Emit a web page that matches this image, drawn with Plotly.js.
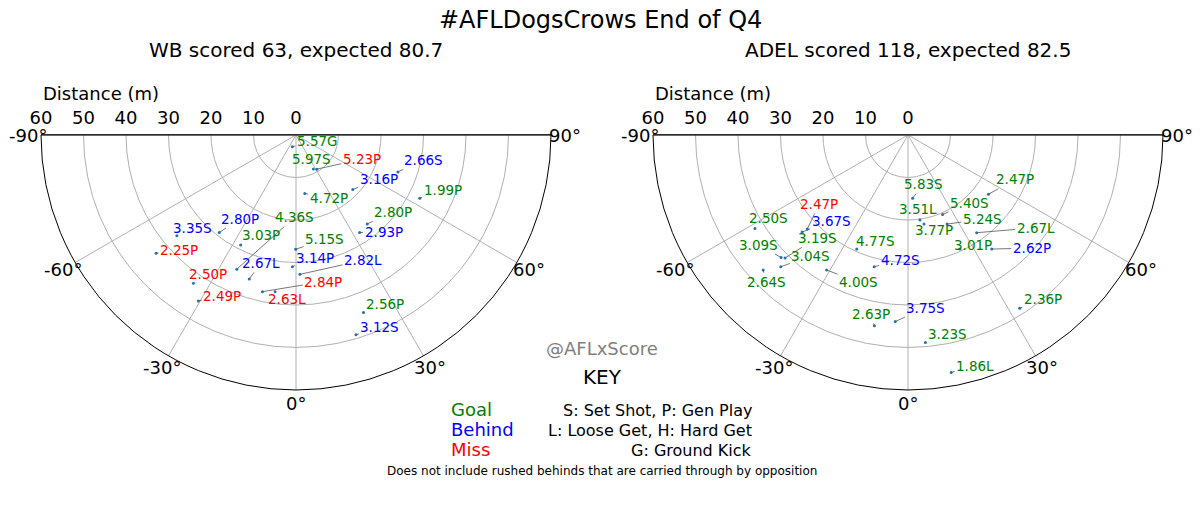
<!DOCTYPE html>
<html>
<head>
<meta charset="utf-8">
<script src="https://cdn.plot.ly/plotly-3.0.1.min.js"></script>
<style>
  html, body { margin: 0; padding: 0; background: #fff; }
  #chart { width: 1200px; height: 524px; }
</style>
</head>
<body>
<div id="chart"></div>
<script>
// Western Bulldogs shots: distance (m), angle (deg, 0 = straight in front), expected score, shot type, result
const wbDist   = [2.9, 9.0, 9.4, 25.5, 18.5, 32.7, 13.9, 26.8, 27.4, 34.5, 36.7, 29.2, 29.0, 43.1, 26.9, 35.6, 31.0, 32.8, 42.4, 37.7, 45.3, 37.2, 44.7, 49.1];
const wbAngle  = [-17.5, 27.0, 31.3, 70.1, 46.2, 62.9, 8.5, 38.7, 33.1, -23.8, -49.8, -38.2, -26.7, -49.8, -0.2, -18.0, -1.6, 1.6, -34.7, -12.1, -30.5, -7.6, 20.8, 16.7];
const wbXs     = [5.57, 5.97, 5.23, 2.66, 3.16, 1.99, 4.72, 2.80, 2.93, 4.36, 3.35, 2.80, 3.03, 2.25, 5.15, 2.67, 3.14, 2.82, 2.50, 2.84, 2.49, 2.63, 2.56, 3.12];
const wbType   = ['G','S','P','S','P','P','P','P','P','S','S','P','P','P','S','L','P','L','P','P','P','L','P','S'];
const wbResult = ['goal','goal','miss','behind','behind','goal','goal','goal','behind','goal','behind','behind',
                  'goal','miss','goal','behind','behind','behind','miss','miss','miss','miss','goal','behind'];

// Adelaide shots
const adDist   = [14.9, 23.5, 20.4, 20.2, 21.3, 22.9, 28.1, 29.5, 33.3, 32.4, 33.8, 42.2, 40.9, 41.5, 43.1, 46.6, 37.1, 29.4, 32.0, 45.6, 44.0, 49.0, 48.5, 56.8];
const adAngle  = [4.2, 53.6, 23.5, 8.0, 10.2, 23.7, 35.1, 24.5, 36.3, -47.0, -47.5, -58.6, -45.0, -46.0, -44.0, -47.0, -31.1, -24.2, -14.4, -10.0, -3.9, 4.8, 32.8, 10.3];
const adXs     = [5.83, 2.47, 5.40, 3.51, 3.77, 5.24, 2.67, 3.01, 2.62, 2.47, 3.67, 2.50, 3.19, 3.09, 3.04, 2.64, 4.00, 4.77, 4.72, 2.63, 3.75, 3.23, 2.36, 1.86];
const adType   = ['S','P','S','L','P','S','L','P','P','P','S','S','S','S','S','S','S','S','S','P','S','S','P','L'];
const adResult = ['goal','goal','goal','goal','goal','goal','goal','goal','behind','miss','behind','goal',
                  'goal','goal','goal','goal','goal','goal','behind','goal','behind','goal','goal','goal'];

// axis ticks
const distTicks = [60, 50, 40, 30, 20, 10, 0];
const angleTicks = [-90, -60, -30, 0, 30, 60, 90];

// label offsets from each shot (px), like adjustText placed them
const wbLabelOff = [[25,-6],[-2,-10],[45,-10],[26,-12],[26,-10],[23,-8],[24,5],[26,-12],[24,-1],[58,-52],[16,-8],[21,-14],
                    [20,-10],[23,-3],[29,-10],[12,-16],[23,-9],[63,-14],[15,-9],[61,-10],[24,-5],[12,7],[22,-9],[24,-8]];
const adLabelOff = [[11,-14],[27,-15],[27,-12],[-2,-11],[10,6],[35,-5],[59,-5],[13,-4],[40,-1],[12,-25],[29,-11],[14,-10],
                    [32,-20],[-23,-13],[30,-11],[3,12],[32,12],[19,-8],[26,-7],[-3,-12],[30,-14],[22,-9],[23,-9],[24,-7]];

const resultColor = { goal: '#008000', behind: '#0000ff', miss: '#ff0000' };

const W = 1200, H = 524;
const yDom = [1 - 390 / H, 1 - 135 / H];
const xDomL = [41 / W, 551 / W];
const xDomR = [653 / W, 1163 / W];
const MAX_DIST = 60;
const ANGLE_LABEL_PAD = 13.5; // px outside the rim, as matplotlib centres them

function polarLayout(xDom) {
  return {
    domain: { x: xDom, y: yDom },
    sector: [180, 360],
    bgcolor: 'rgba(0,0,0,0)',
    angularaxis: {
      rotation: -90,
      direction: 'counterclockwise',
      tickmode: 'array',
      // the visible half runs from 270 to 450 in theta units with this rotation
      tickvals: angleTicks.map(a => a + 360),
      showticklabels: false,
      ticks: '',
      showline: true,
      linecolor: 'black',
      linewidth: 1,
      gridcolor: '#b0b0b0',
      gridwidth: 1
    },
    radialaxis: {
      range: [0, MAX_DIST],
      tickmode: 'array',
      tickvals: [10, 20, 30, 40, 50, 60],
      showticklabels: false,
      ticks: '',
      showline: false,
      gridcolor: '#b0b0b0',
      gridwidth: 1
    }
  };
}

// hidden cartesian frame lying over each half disc: top edge line, distance labels, shot labels
function frameX(xDom, yName) {
  return {
    domain: xDom, range: [-MAX_DIST, MAX_DIST], side: 'top', anchor: yName,
    showline: true, linecolor: 'black', linewidth: 1,
    showgrid: false, zeroline: false, ticks: '', ticklabelstandoff: 3,
    tickmode: 'array', tickvals: distTicks.map(d => -d), ticktext: distTicks.map(String),
    tickfont: { size: 18, color: 'black' }, fixedrange: true
  };
}
function frameY(xName) {
  return { domain: yDom, range: [-MAX_DIST, 0], anchor: xName, visible: false, fixedrange: true };
}

// angle tick labels centred just outside the rim
function angleLabels(xref, yref) {
  return angleTicks.map(a => {
    const rad = a * Math.PI / 180;
    return {
      xref: xref, yref: yref,
      x: MAX_DIST * Math.sin(rad), y: -MAX_DIST * Math.cos(rad),
      xshift: ANGLE_LABEL_PAD * Math.sin(rad), yshift: -ANGLE_LABEL_PAD * Math.cos(rad),
      xanchor: 'center', yanchor: 'middle', showarrow: false,
      text: a + '°', font: { size: 18, color: 'black' }
    };
  });
}

function shotLabels(dist, angle, xs, type, result, off, xref, yref) {
  return dist.map((r, i) => {
    const rad = angle[i] * Math.PI / 180;
    return {
      xref: xref, yref: yref,
      x: r * Math.sin(rad), y: -r * Math.cos(rad),
      ax: off[i][0], ay: off[i][1],
      text: xs[i].toFixed(2) + type[i],
      showarrow: true, arrowhead: 0, arrowwidth: 0.8, arrowcolor: '#555555', standoff: 0,
      font: { size: 13.5, color: resultColor[result[i]] }
    };
  });
}

function paperText(text, x, yPx, size, opts) {
  return Object.assign({
    xref: 'paper', yref: 'paper', x: x, y: 1 - yPx / H,
    xanchor: 'center', yanchor: 'middle', showarrow: false,
    text: text, font: { size: size, color: 'black' }
  }, opts || {});
}

const data = [
  { type: 'scatterpolar', subplot: 'polar', r: wbDist, theta: wbAngle, mode: 'markers',
    marker: { size: 3, color: '#1f77b4' }, hoverinfo: 'skip' },
  { type: 'scatterpolar', subplot: 'polar2', r: adDist, theta: adAngle, mode: 'markers',
    marker: { size: 3, color: '#1f77b4' }, hoverinfo: 'skip' },
  { type: 'scatter', x: [], y: [], xaxis: 'x', yaxis: 'y', hoverinfo: 'skip' },
  { type: 'scatter', x: [], y: [], xaxis: 'x2', yaxis: 'y2', hoverinfo: 'skip' }
];

const annotations = [].concat(
  angleLabels('x', 'y'),
  angleLabels('x2', 'y2'),
  shotLabels(wbDist, wbAngle, wbXs, wbType, wbResult, wbLabelOff, 'x', 'y'),
  shotLabels(adDist, adAngle, adXs, adType, adResult, adLabelOff, 'x2', 'y2'),
  [
    paperText('#AFLDogsCrows End of Q4', 0.5, 20, 24),
    paperText('WB scored 63, expected 80.7', 296 / W, 50, 20),
    paperText('ADEL scored 118, expected 82.5', 908 / W, 50, 20),
    paperText('Distance (m)', 41 / W, 93, 18, { xanchor: 'left' }),
    paperText('Distance (m)', 653 / W, 93, 18, { xanchor: 'left' }),
    paperText('@AFLxScore', 602 / W, 348, 18, { font: { size: 18, color: '#808080' } }),
    paperText('KEY', 602 / W, 377, 20),
    paperText('Goal', 449 / W, 409, 18, { xanchor: 'left', font: { size: 18, color: resultColor.goal } }),
    paperText('Behind', 449 / W, 429, 18, { xanchor: 'left', font: { size: 18, color: resultColor.behind } }),
    paperText('Miss', 449 / W, 449, 18, { xanchor: 'left', font: { size: 18, color: resultColor.miss } }),
    paperText('S: Set Shot, P: Gen Play', 754 / W, 410, 16, { xanchor: 'right' }),
    paperText('L: Loose Get, H: Hard Get', 754 / W, 430, 16, { xanchor: 'right' }),
    paperText('G: Ground Kick', 754 / W, 450, 16, { xanchor: 'right' }),
    paperText('Does not include rushed behinds that are carried through by opposition', 602 / W, 471, 12)
  ]
);

const layout = {
  width: W,
  height: H,
  margin: { l: 0, r: 0, t: 0, b: 0, pad: 0 },
  paper_bgcolor: 'white',
  plot_bgcolor: 'rgba(0,0,0,0)',
  showlegend: false,
  font: { family: 'DejaVu Sans', color: 'black' },
  polar: polarLayout(xDomL),
  polar2: polarLayout(xDomR),
  xaxis: frameX(xDomL, 'y'),
  yaxis: frameY('x'),
  xaxis2: frameX(xDomR, 'y2'),
  yaxis2: frameY('x2'),
  annotations: annotations
};

const config = { staticPlot: true, displayModeBar: false };

Plotly.newPlot('chart', data, layout, config);
</script>
</body>
</html>
